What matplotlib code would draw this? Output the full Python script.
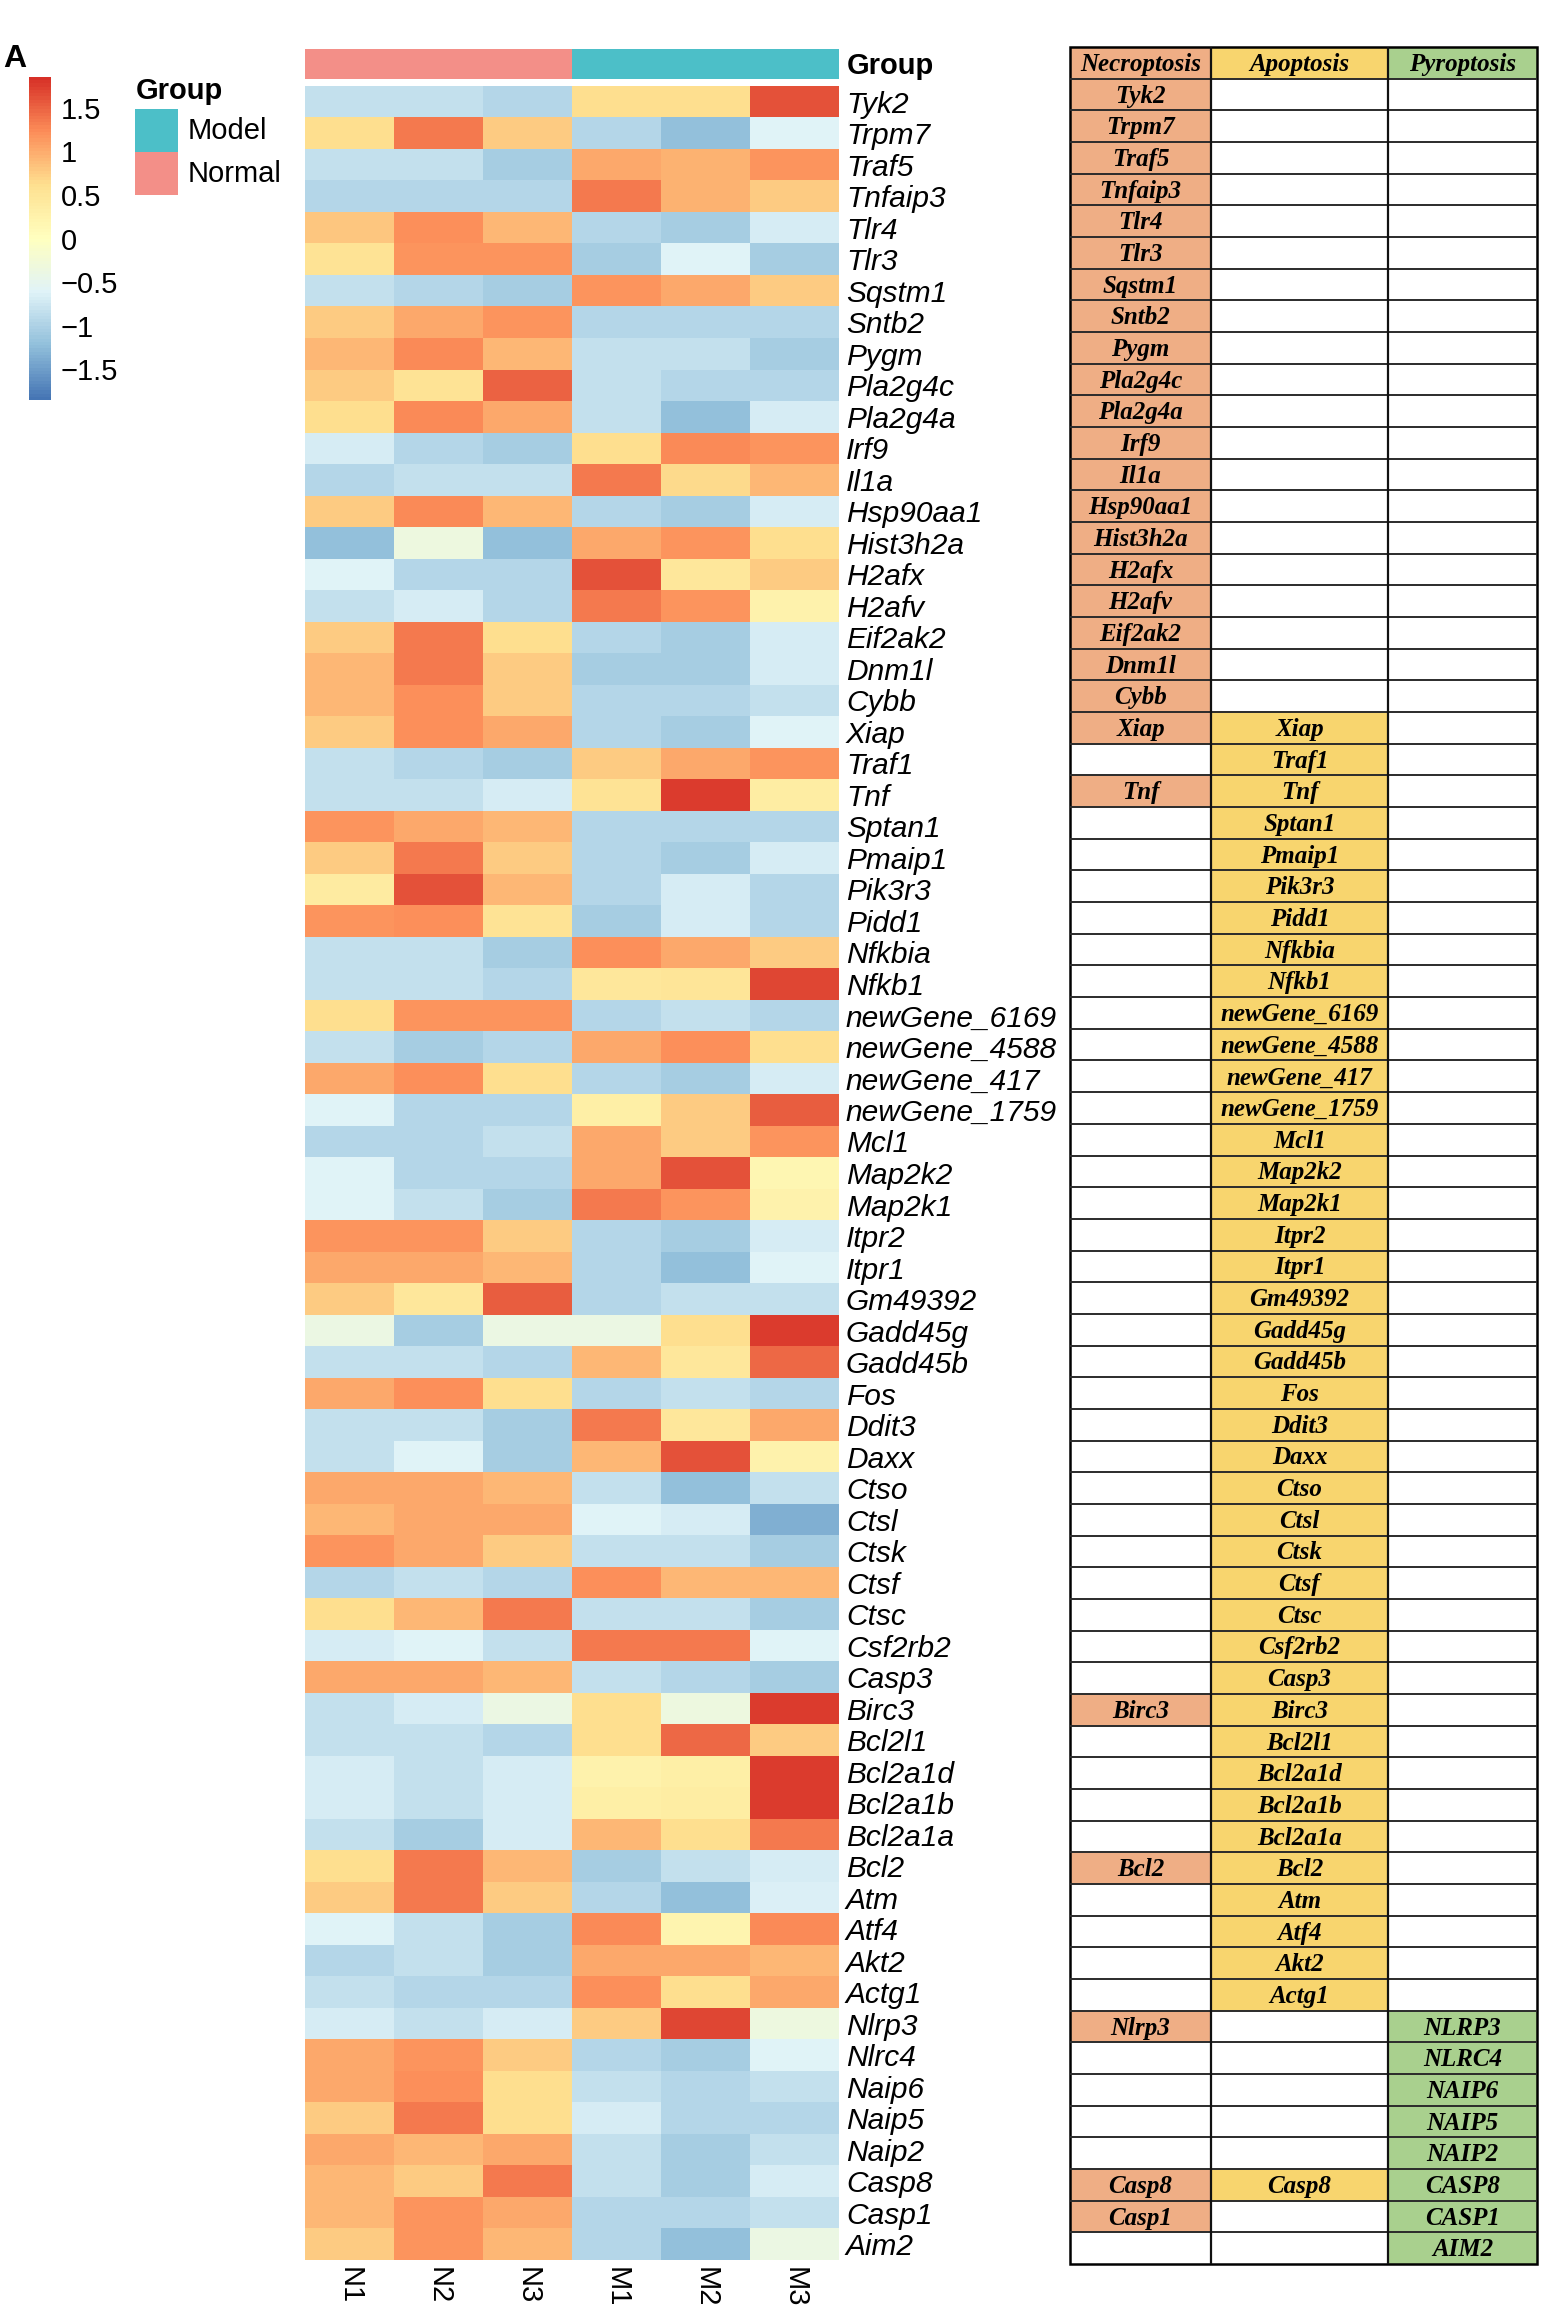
import numpy as np
import matplotlib
matplotlib.use("Agg")
import matplotlib.pyplot as plt
from matplotlib.colors import LinearSegmentedColormap, ListedColormap
from matplotlib.patches import Rectangle

plt.rcParams["font.family"] = ["Liberation Sans", "DejaVu Sans"]

# ---- data -------------------------------------------------------------
genes = ["Tyk2", "Trpm7", "Traf5", "Tnfaip3", "Tlr4", "Tlr3", "Sqstm1", "Sntb2",
         "Pygm", "Pla2g4c", "Pla2g4a", "Irf9", "Il1a", "Hsp90aa1", "Hist3h2a",
         "H2afx", "H2afv", "Eif2ak2", "Dnm1l", "Cybb", "Xiap", "Traf1", "Tnf",
         "Sptan1", "Pmaip1", "Pik3r3", "Pidd1", "Nfkbia", "Nfkb1", "newGene_6169",
         "newGene_4588", "newGene_417", "newGene_1759", "Mcl1", "Map2k2", "Map2k1",
         "Itpr2", "Itpr1", "Gm49392", "Gadd45g", "Gadd45b", "Fos", "Ddit3", "Daxx",
         "Ctso", "Ctsl", "Ctsk", "Ctsf", "Ctsc", "Csf2rb2", "Casp3", "Birc3",
         "Bcl2l1", "Bcl2a1d", "Bcl2a1b", "Bcl2a1a", "Bcl2", "Atm", "Atf4", "Akt2",
         "Actg1", "Nlrp3", "Nlrc4", "Naip6", "Naip5", "Naip2", "Casp8", "Casp1",
         "Aim2"]

samples = ["N1", "N2", "N3", "M1", "M2", "M3"]
sample_group = ["Normal", "Normal", "Normal", "Model", "Model", "Model"]

# row z-scores per sample (same order as genes)
n1 = [-0.85, 0.60, -0.85, -0.95, 0.80, 0.55, -0.85, 0.75, 0.90, 0.75,
      0.60, -0.70, -0.95, 0.75, -1.20, -0.60, -0.85, 0.75, 0.90, 0.90,
      0.75, -0.85, -0.85, 1.15, 0.75, 0.40, 1.15, -0.85, -0.85, 0.60,
      -0.85, 1.00, -0.60, -0.95, -0.60, -0.60, 1.15, 1.00, 0.75, -0.40,
      -0.85, 1.00, -0.85, -0.85, 1.00, 0.90, 1.15, -0.95, 0.60, -0.70,
      1.00, -0.85, -0.85, -0.70, -0.70, -0.85, 0.60, 0.75, -0.60, -0.95,
      -0.85, -0.70, 1.00, 1.00, 0.75, 1.00, 0.90, 0.90, 0.75]
n2 = [-0.85, 1.35, -0.85, -0.95, 1.20, 1.15, -0.95, 1.00, 1.25, 0.55,
      1.25, -0.95, -0.85, 1.25, -0.35, -0.95, -0.70, 1.35, 1.35, 1.20,
      1.20, -0.95, -0.85, 1.00, 1.35, 1.60, 1.20, -0.85, -0.85, 1.15,
      -1.05, 1.20, -0.95, -0.95, -0.95, -0.85, 1.15, 1.00, 0.45, -1.05,
      -0.85, 1.20, -0.85, -0.60, 1.00, 1.00, 1.00, -0.85, 0.90, -0.60,
      1.00, -0.70, -0.85, -0.85, -0.85, -1.05, 1.35, 1.35, -0.85, -0.85,
      -0.95, -0.85, 1.15, 1.20, 1.35, 0.90, 0.75, 1.15, 1.15]
n3 = [-0.95, 0.75, -1.05, -0.95, 0.90, 1.15, -1.05, 1.15, 0.90, 1.50,
      1.00, -1.05, -0.85, 0.90, -1.20, -0.95, -0.95, 0.60, 0.75, 0.75,
      1.00, -1.05, -0.70, 0.90, 0.75, 0.90, 0.55, -1.05, -0.95, 1.15,
      -0.95, 0.60, -0.95, -0.85, -0.95, -1.05, 0.75, 0.90, 1.55, -0.40,
      -0.95, 0.60, -1.05, -1.05, 0.90, 1.00, 0.75, -0.95, 1.35, -0.85,
      0.90, -0.40, -0.95, -0.70, -0.70, -0.70, 0.90, 0.75, -1.05, -1.05,
      -0.95, -0.70, 0.75, 0.60, 0.60, 1.00, 1.35, 1.00, 0.90]
m1 = [0.60, -0.95, 1.00, 1.35, -0.95, -1.05, 1.15, -0.95, -0.85, -0.85,
      -0.85, 0.60, 1.35, -0.95, 1.00, 1.60, 1.35, -0.95, -1.05, -0.95,
      -0.95, 0.75, 0.55, -0.95, -0.95, -0.95, -1.05, 1.20, 0.45, -0.95,
      1.00, -0.95, 0.30, 1.00, 1.00, 1.35, -0.95, -0.95, -0.95, -0.40,
      0.90, -0.95, 1.35, 0.90, -0.85, -0.60, -0.85, 1.20, -0.85, 1.35,
      -0.85, 0.60, 0.60, 0.25, 0.30, 0.90, -1.05, -0.95, 1.25, 1.00,
      1.20, 0.75, -0.95, -0.85, -0.70, -0.85, -0.85, -0.95, -0.95]
m2 = [0.60, -1.20, 0.95, 0.95, -1.05, -0.60, 1.00, -0.95, -0.85, -0.95,
      -1.20, 1.25, 0.65, -1.05, 1.15, 0.45, 1.15, -1.05, -1.05, -0.95,
      -1.05, 1.00, 1.75, -0.95, -1.05, -0.70, -0.70, 1.00, 0.50, -0.85,
      1.20, -1.05, 0.75, 0.75, 1.60, 1.15, -1.05, -1.20, -0.85, 0.60,
      0.45, -0.85, 0.45, 1.60, -1.20, -0.70, -0.85, 0.90, -0.85, 1.35,
      -0.95, -0.35, 1.45, 0.30, 0.35, 0.60, -0.85, -1.20, 0.20, 1.00,
      0.60, 1.70, -1.05, -0.95, -0.95, -1.05, -1.05, -0.95, -1.20]
m3 = [1.60, -0.60, 1.15, 0.75, -0.70, -1.05, 0.75, -0.95, -1.05, -0.95,
      -0.70, 1.15, 0.90, -0.70, 0.60, 0.75, 0.25, -0.70, -0.70, -0.85,
      -0.60, 1.15, 0.35, -0.95, -0.70, -0.95, -0.95, 0.75, 1.70, -0.95,
      0.60, -0.70, 1.55, 1.15, 0.15, 0.25, -0.70, -0.60, -0.85, 1.75,
      1.45, -0.95, 1.00, 0.25, -0.85, -1.35, -1.05, 0.90, -1.05, -0.60,
      -1.05, 1.75, 0.75, 1.75, 1.75, 1.35, -0.70, -0.65, 1.25, 0.90,
      1.00, -0.35, -0.60, -0.85, -0.95, -0.85, -0.70, -0.85, -0.40]

# pathway membership table
pathways = ["Necroptosis", "Apoptosis", "Pyroptosis"]
necroptosis = ["Tyk2", "Trpm7", "Traf5", "Tnfaip3", "Tlr4", "Tlr3", "Sqstm1",
               "Sntb2", "Pygm", "Pla2g4c", "Pla2g4a", "Irf9", "Il1a", "Hsp90aa1",
               "Hist3h2a", "H2afx", "H2afv", "Eif2ak2", "Dnm1l", "Cybb", "Xiap",
               "Tnf", "Birc3", "Bcl2", "Nlrp3", "Casp8", "Casp1"]
apoptosis = ["Xiap", "Traf1", "Tnf", "Sptan1", "Pmaip1", "Pik3r3", "Pidd1",
             "Nfkbia", "Nfkb1", "newGene_6169", "newGene_4588", "newGene_417",
             "newGene_1759", "Mcl1", "Map2k2", "Map2k1", "Itpr2", "Itpr1",
             "Gm49392", "Gadd45g", "Gadd45b", "Fos", "Ddit3", "Daxx", "Ctso",
             "Ctsl", "Ctsk", "Ctsf", "Ctsc", "Csf2rb2", "Casp3", "Birc3",
             "Bcl2l1", "Bcl2a1d", "Bcl2a1b", "Bcl2a1a", "Bcl2", "Atm", "Atf4",
             "Akt2", "Actg1", "Casp8"]
pyroptosis = ["NLRP3", "NLRC4", "NAIP6", "NAIP5", "NAIP2", "CASP8", "CASP1", "AIM2"]

# ---- style ------------------------------------------------------------
W, H = 1541, 2316
heat_colors = ["#4575B4", "#91BFDB", "#E0F3F8", "#FFFFBF", "#FEE090", "#FC8D59", "#D73027"]
cmap = LinearSegmentedColormap.from_list("rdylbu", heat_colors, N=100)
group_colors = {"Normal": "#F38F88", "Model": "#4CBFC8"}
path_colors = ["#EFAE85", "#F8D56E", "#A9D08E"]
table_font = dict(family="Liberation Serif", weight="bold", style="italic", fontsize=18)

fig = plt.figure(figsize=(W / 100, H / 100), dpi=100)


def px_axes(x0, y0, x1, y1):
    return fig.add_axes([x0 / W, 1 - y1 / H, (x1 - x0) / W, (y1 - y0) / H])


# heatmap
mat = np.column_stack([n1, n2, n3, m1, m2, m3])
ax = px_axes(305, 86, 839, 2260)
im = ax.imshow(mat, cmap=cmap, vmin=-1.85, vmax=1.85, aspect="auto",
               interpolation="nearest")
ax.set_yticks(range(len(genes)))
ax.set_yticklabels(genes, fontsize=21.5, style="italic")
ax.yaxis.tick_right()
ax.set_xticks(range(len(samples)))
ax.set_xticklabels(samples, fontsize=21, rotation=270)
ax.tick_params(axis="y", length=0, pad=5)
ax.tick_params(axis="x", length=0, pad=5)
for s in ax.spines.values():
    s.set_visible(False)

# group annotation bar
axg = px_axes(305, 49, 839, 79)
codes = np.array([[0 if g == "Normal" else 1 for g in sample_group]])
axg.imshow(codes, cmap=ListedColormap([group_colors["Normal"], group_colors["Model"]]),
           vmin=0, vmax=1, aspect="auto", interpolation="nearest")
axg.set_xticks([])
axg.set_yticks([])
for s in axg.spines.values():
    s.set_visible(False)
axg.text(1 + 8 / 534, 0.45, "Group", transform=axg.transAxes, fontsize=21,
         weight="bold", va="center", ha="left")

# colour key
cax = px_axes(29, 77, 51, 400)
ticks = [1.5, 1, 0.5, 0, -0.5, -1, -1.5]
cb = fig.colorbar(im, cax=cax, ticks=ticks)
cb.outline.set_visible(False)
cb.set_ticklabels(["1.5", "1", "0.5", "0", "\u22120.5", "\u22121", "\u22121.5"])
cax.tick_params(length=0, pad=7, labelsize=21)

# overlay for legend and panel letter
ov = fig.add_axes([0, 0, 1, 1])
ov.set_xlim(0, W)
ov.set_ylim(H, 0)
ov.axis("off")
ov.text(3, 44, "A", fontsize=23, weight="bold", va="top", ha="left")
ov.text(136, 99, "Group", fontsize=21, weight="bold", va="baseline", ha="left")
legend_items = ["Model", "Normal"]
for k, name in enumerate(legend_items):
    y0 = 109 + k * 43
    ov.add_patch(Rectangle((135, y0), 43, 43, facecolor=group_colors[name],
                           edgecolor="none"))
    ov.text(188, y0 + 22, name, fontsize=21, va="center", ha="left")

# pathway table
tax = px_axes(1070, 47, 1537, 2264)
col_edges = [0, 141, 318, 467]
nrow = len(genes) + 1
tax.set_xlim(0, col_edges[-1])
tax.set_ylim(nrow, 0)
tax.axis("off")

for j, name in enumerate(pathways):
    x0, x1 = col_edges[j], col_edges[j + 1]
    tax.add_patch(Rectangle((x0, 0), x1 - x0, 1, facecolor=path_colors[j],
                            edgecolor="none"))
    tax.text((x0 + x1) / 2, 0.55, name, ha="center", va="center", **table_font)

for i, g in enumerate(genes):
    r = i + 1
    entries = [g if g in necroptosis else "",
               g if g in apoptosis else "",
               g.upper() if g.upper() in pyroptosis else ""]
    for j, txt in enumerate(entries):
        if not txt:
            continue
        x0, x1 = col_edges[j], col_edges[j + 1]
        tax.add_patch(Rectangle((x0, r), x1 - x0, 1, facecolor=path_colors[j],
                                edgecolor="none"))
        tax.text((x0 + x1) / 2, r + 0.55, txt, ha="center", va="center", **table_font)

tax.hlines(np.arange(1, nrow), 0, col_edges[-1], colors="#2b2b2b", linewidth=1.4)
tax.vlines(col_edges[1:-1], 0, nrow, colors="#111111", linewidth=1.6)
tax.add_patch(Rectangle((0, 0), col_edges[-1], nrow, facecolor="none",
                        edgecolor="black", linewidth=1.8, clip_on=False))

fig.savefig("out.png", dpi=100)
